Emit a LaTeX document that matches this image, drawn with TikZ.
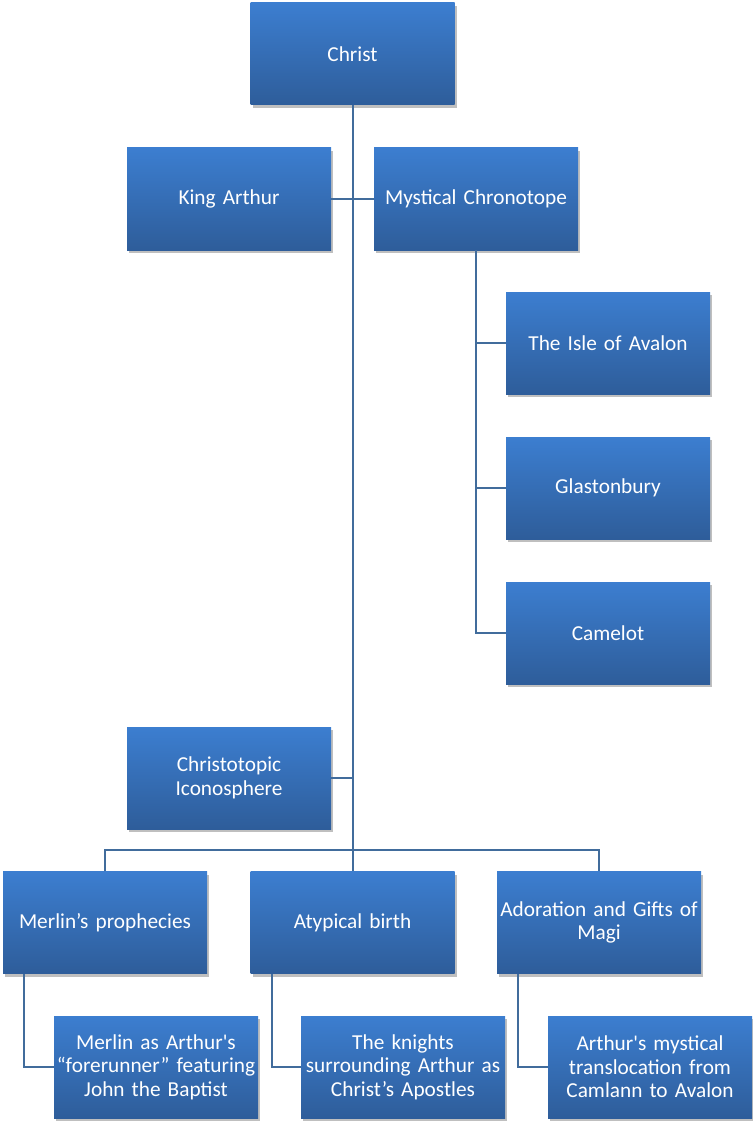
\documentclass[tikz,border=0pt]{standalone}
\usepackage{fontspec}
\setmainfont{Carlito}
\usetikzlibrary{shadows}
\definecolor{boxtop}{RGB}{60,126,208}
\definecolor{boxbot}{RGB}{46,93,154}
\definecolor{linkc}{RGB}{65,108,156}
\tikzset{
  box/.style={rectangle, minimum width=204pt, minimum height=102pt, inner sep=2pt,
    text width=200pt, align=center, text=white, font=\fontsize{21.3}{23.5}\selectfont,
    top color=boxtop, bottom color=boxbot, draw=none,
    drop shadow={shadow xshift=2pt, shadow yshift=-3pt, opacity=0.25, fill=black}},
  link/.style={draw=linkc, line width=2pt}
}
\begin{document}
\begin{tikzpicture}[x=1pt,y=-1pt]
\useasboundingbox (0,0) rectangle (752,1123);
\node[box] (christ) at (352.5,54) {Christ};
\node[box] (king) at (229,199) {King Arthur};
\node[box] (myst) at (476,199) {Mystical Chronotope};
\node[box] (isle) at (608,343) {The Isle of Avalon};
\node[box] (glas) at (608,488) {Glastonbury};
\node[box] (came) at (608,633) {Camelot};
\node[box] (chto) at (229,778) {Christotopic\\Iconosphere};
\node[box] (merp) at (105,922.5) {Merlin’s prophecies};
\node[box] (atyp) at (352.5,922.5) {Atypical birth};
\node[box] (ador) at (599,922.5) {Adoration and Gifts of\\Magi};
\node[box] (merf) at (156,1067) {Merlin as Arthur\textquotesingle s\\“forerunner” featuring\\John the Baptist};
\node[box] (knig) at (403,1067) {The knights\\surrounding Arthur as\\Christ’s Apostles};
\node[box] (tran) at (650,1067) {Arthur\textquotesingle s mystical\\translocation from\\Camlann to Avalon};
\coordinate (bar) at (352.5,850);
\draw[link] (christ.south) -- (atyp.north);
\draw[link] (king.east) -- (myst.west);
\draw[link] (chto.east) -- (chto.east -| christ.south);
\draw[link] (merp.north) |- (bar) -| (ador.north);
\draw[link] (myst.south) |- (isle.west);
\draw[link] (myst.south) |- (glas.west);
\draw[link] (myst.south) |- (came.west);
\draw[link] ([xshift=-81pt]merp.south) |- (merf.west);
\draw[link] ([xshift=-81pt]atyp.south) |- (knig.west);
\draw[link] ([xshift=-81pt]ador.south) |- (tran.west);
\end{tikzpicture}
\end{document}
